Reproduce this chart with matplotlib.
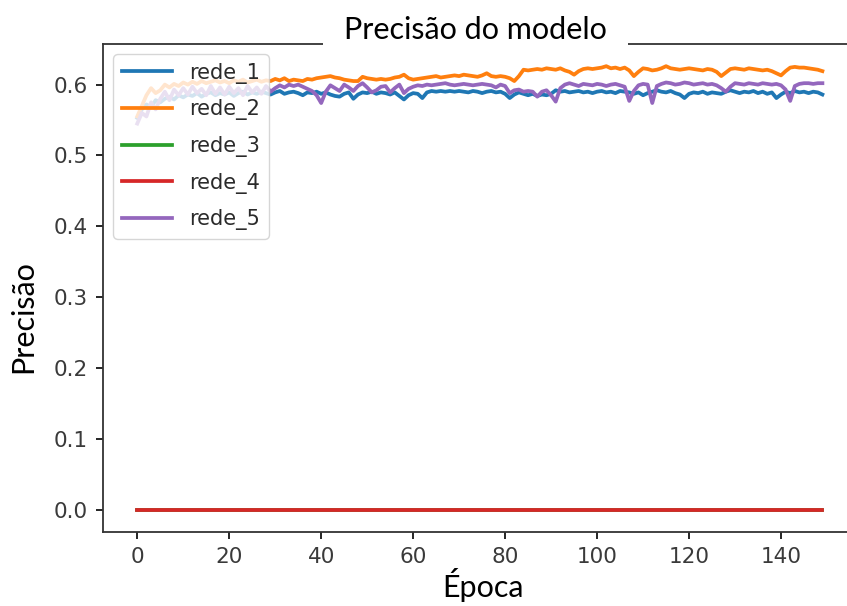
import matplotlib
matplotlib.use("Agg")
import matplotlib.pyplot as plt
from matplotlib.patches import Rectangle

plt.rcParams['font.family'] = ['DejaVu Sans']

epocas = list(range(150))

rede_1 = [0.553, 0.565, 0.572, 0.568, 0.578, 0.575, 0.580, 0.583, 0.579, 0.585,
          0.582, 0.586, 0.584, 0.588, 0.583, 0.587, 0.589, 0.585, 0.588, 0.586,
          0.589, 0.584, 0.588, 0.590, 0.586, 0.589, 0.587, 0.590, 0.588, 0.586,
          0.589, 0.591, 0.587, 0.589, 0.590, 0.588, 0.585, 0.589, 0.588, 0.590,
          0.587, 0.589, 0.586, 0.584, 0.583, 0.587, 0.589, 0.580, 0.586, 0.589,
          0.588, 0.590, 0.587, 0.589, 0.588, 0.586, 0.589, 0.584, 0.579, 0.585,
          0.588, 0.587, 0.581, 0.589, 0.591, 0.590, 0.591, 0.590, 0.591, 0.590,
          0.591, 0.590, 0.589, 0.591, 0.590, 0.588, 0.590, 0.591, 0.589, 0.590,
          0.587, 0.581, 0.586, 0.589, 0.587, 0.585, 0.587, 0.584, 0.586, 0.585,
          0.587, 0.592, 0.590, 0.591, 0.589, 0.590, 0.591, 0.589, 0.590, 0.588,
          0.590, 0.591, 0.589, 0.590, 0.588, 0.591, 0.590, 0.589, 0.587, 0.589,
          0.585, 0.588, 0.590, 0.592, 0.590, 0.589, 0.591, 0.588, 0.586, 0.581,
          0.587, 0.589, 0.588, 0.590, 0.587, 0.589, 0.588, 0.587, 0.590, 0.592,
          0.590, 0.588, 0.590, 0.589, 0.591, 0.588, 0.590, 0.587, 0.589, 0.581,
          0.586, 0.590, 0.588, 0.591, 0.589, 0.590, 0.588, 0.590, 0.589, 0.586]

rede_2 = [0.555, 0.570, 0.585, 0.595, 0.588, 0.592, 0.600, 0.596, 0.601, 0.598,
          0.603, 0.600, 0.604, 0.601, 0.605, 0.602, 0.604, 0.606, 0.603, 0.605,
          0.602, 0.606, 0.604, 0.607, 0.603, 0.605, 0.607, 0.604, 0.606, 0.605,
          0.608, 0.606, 0.609, 0.605, 0.607, 0.606, 0.605, 0.608, 0.607, 0.609,
          0.610, 0.611, 0.612, 0.610, 0.609, 0.607, 0.606, 0.605, 0.605, 0.611,
          0.609, 0.608, 0.607, 0.608, 0.607, 0.608, 0.610, 0.611, 0.614, 0.609,
          0.607, 0.608, 0.609, 0.610, 0.611, 0.612, 0.610, 0.611, 0.612, 0.613,
          0.612, 0.614, 0.613, 0.612, 0.611, 0.613, 0.616, 0.612, 0.611, 0.612,
          0.611, 0.609, 0.605, 0.612, 0.621, 0.620, 0.621, 0.622, 0.621, 0.623,
          0.622, 0.621, 0.623, 0.620, 0.618, 0.614, 0.619, 0.622, 0.623, 0.622,
          0.623, 0.624, 0.626, 0.623, 0.624, 0.622, 0.624, 0.620, 0.612, 0.618,
          0.623, 0.622, 0.620, 0.621, 0.623, 0.626, 0.623, 0.622, 0.621, 0.622,
          0.623, 0.622, 0.621, 0.620, 0.622, 0.621, 0.618, 0.612, 0.617, 0.622,
          0.623, 0.622, 0.621, 0.623, 0.622, 0.621, 0.620, 0.621, 0.619, 0.616,
          0.613, 0.619, 0.624, 0.625, 0.624, 0.624, 0.623, 0.622, 0.621, 0.619]

# rede_3 e rede_4 ficam em zero o tempo todo
rede_3 = [0.0] * 150
rede_4 = [0.0] * 150

rede_5 = [0.545, 0.560, 0.555, 0.575, 0.565, 0.580, 0.590, 0.578, 0.593, 0.585,
          0.595, 0.586, 0.597, 0.588, 0.594, 0.585, 0.598, 0.587, 0.596, 0.586,
          0.597, 0.588, 0.595, 0.585, 0.598, 0.589, 0.596, 0.587, 0.598, 0.590,
          0.595, 0.599, 0.596, 0.600, 0.598, 0.600, 0.597, 0.594, 0.591, 0.585,
          0.574, 0.590, 0.599, 0.595, 0.591, 0.600, 0.596, 0.591, 0.598, 0.602,
          0.596, 0.589, 0.592, 0.597, 0.598, 0.589, 0.595, 0.600, 0.588, 0.594,
          0.597, 0.599, 0.598, 0.600, 0.599, 0.600, 0.601, 0.602, 0.600, 0.599,
          0.600, 0.601, 0.600, 0.599, 0.600, 0.601, 0.600, 0.599, 0.596, 0.600,
          0.598, 0.588, 0.592, 0.593, 0.590, 0.591, 0.590, 0.583, 0.590, 0.592,
          0.585, 0.576, 0.595, 0.600, 0.602, 0.600, 0.598, 0.601, 0.600, 0.599,
          0.601, 0.600, 0.598, 0.600, 0.601, 0.599, 0.597, 0.577, 0.591, 0.599,
          0.601, 0.600, 0.574, 0.598, 0.601, 0.603, 0.602, 0.600, 0.601, 0.603,
          0.602, 0.600, 0.601, 0.602, 0.600, 0.601, 0.599, 0.595, 0.590, 0.597,
          0.602, 0.601, 0.600, 0.602, 0.601, 0.600, 0.602, 0.601, 0.600, 0.601,
          0.599, 0.593, 0.577, 0.598, 0.601, 0.602, 0.602, 0.601, 0.602, 0.602]

series = {"rede_1": rede_1, "rede_2": rede_2, "rede_3": rede_3,
          "rede_4": rede_4, "rede_5": rede_5}

fig = plt.figure(figsize=(8.47, 6.06), dpi=100)
# the right edge of the axes runs past the picture, like the reference crop
ax = fig.add_axes([0.1216, 0.1221, 0.8898, 0.8053])

for name, vals in series.items():
    ax.plot(epocas, vals, linewidth=2.7, label=name)

ax.tick_params(labelsize=15.5, length=5, width=1.2, pad=6, labelcolor="#3a3a3a")
for sp in ax.spines.values():
    sp.set_linewidth(1.3)
    sp.set_color("#333333")

ax.legend(loc="upper left", fontsize=15, handlelength=2.4, handletextpad=0.85,
          labelspacing=0.75, labelcolor="#2a2a2a")

#white strip over the top spine behind the title
fig.patches.append(Rectangle((0.3813, 0.9224), 0.3601, 0.07, transform=fig.transFigure,
                             facecolor="white", edgecolor="none", zorder=3))

txt_font = ["Lato", "DejaVu Sans"]
fig.text(0.561, 0.936, "Precisão do modelo", ha="center", va="baseline",
         fontsize=22, family=txt_font, zorder=4)
fig.text(0.570, 0.015, "Época", ha="center", va="baseline",
         fontsize=22, family=txt_font)
fig.text(0.027, 0.478, "Precisão", ha="center", va="center", rotation=90,
         fontsize=22, family=txt_font)

fig.savefig("out.png", dpi=100)
